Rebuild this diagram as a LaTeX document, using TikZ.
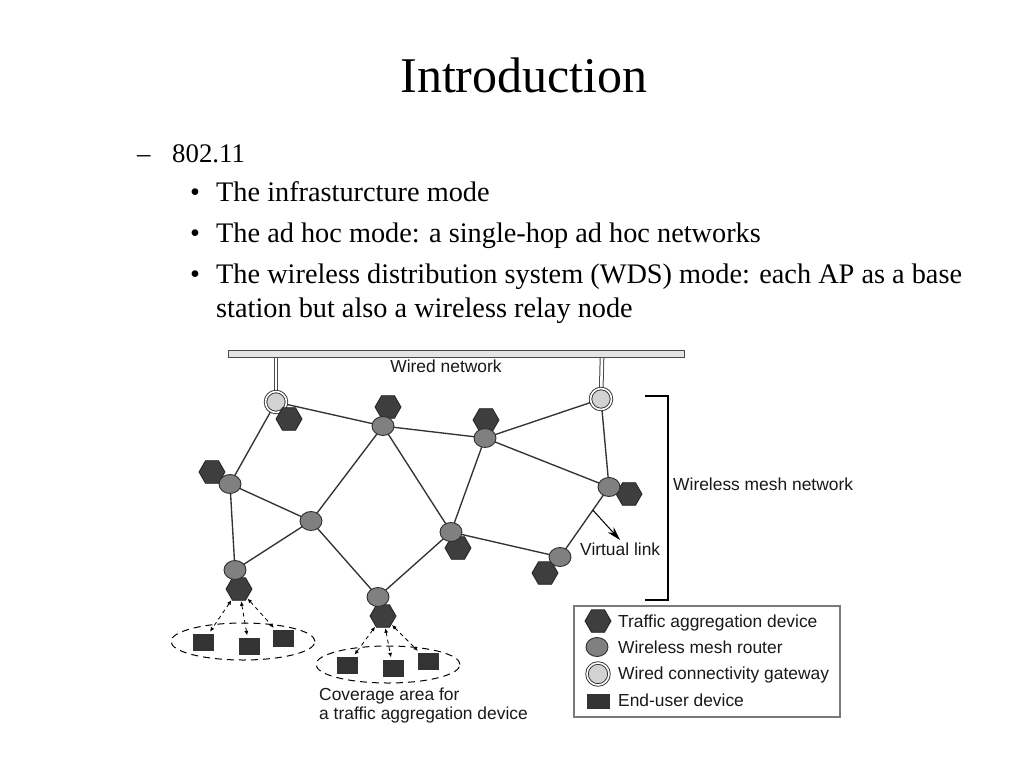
\documentclass[tikz,border=0pt]{standalone}
\usepackage{fontspec}
\setmainfont{Liberation Serif}
\newfontfamily\diagfont{Liberation Sans}
\usetikzlibrary{shapes.geometric,arrows.meta,calc,backgrounds}
\definecolor{linegray}{HTML}{333333}
\definecolor{hexfill}{HTML}{3E3E3E}
\definecolor{hexborder}{HTML}{222222}
\definecolor{routerfill}{HTML}{808080}
\definecolor{routerborder}{HTML}{2E2E2E}
\definecolor{gwfill}{HTML}{D2D2D2}
\definecolor{userfill}{HTML}{333333}
\definecolor{barfill}{HTML}{E4E4E4}
\definecolor{bargray}{HTML}{4A4A4A}
\definecolor{legendgray}{HTML}{7A7A7A}
\begin{document}
\begin{tikzpicture}[x=1pt,y=-1pt,
  link/.style={draw=linegray, line width=1.35pt},
  hexdev/.style={regular polygon, regular polygon sides=6, minimum size=26pt, inner sep=0pt, outer sep=0pt, fill=hexfill, draw=hexborder, line width=0.8pt},
  router/.style={ellipse, minimum width=22pt, minimum height=19pt, inner sep=0pt, outer sep=0pt, fill=routerfill, draw=routerborder, line width=0.9pt},
  gateway/.style={circle, minimum size=21pt, inner sep=0pt, outer sep=0pt, fill=gwfill, draw=routerborder, double=white, double distance=1.6pt, line width=0.9pt},
  enduser/.style={rectangle, minimum width=21pt, minimum height=17pt, inner sep=0pt, fill=userfill},
  coverage/.style={ellipse, draw=black, dash pattern=on 7pt off 5pt, line width=1pt, inner sep=0pt},
  access/.style={draw=black, dash pattern=on 4pt off 3.5pt, line width=0.8pt, {Latex[length=4.5pt,width=4pt]}-{Latex[length=4.5pt,width=4pt]}, shorten <=1pt, shorten >=2pt},
  wiredlink/.style={draw=bargray, double=white, double distance=2.6pt, line width=1pt},
  dlabel/.style={font=\diagfont\fontsize{17.4}{20}\selectfont, inner sep=0pt, text=black!90},
  body/.style={font=\fontsize{28.3}{34}\selectfont, inner sep=0pt, anchor=base west}
]
\useasboundingbox (0,0) rectangle (1024,768);

% ---------- slide text ----------
\node[anchor=base, inner sep=0pt, font=\fontsize{50}{60}\selectfont] (title) at (524,92) {Introduction};
\node[anchor=base west, inner sep=0pt, font=\fontsize{26.8}{32}\selectfont] (dash) at (137,162) {–};
\node[anchor=base west, inner sep=0pt, font=\fontsize{26.8}{32}\selectfont] (lvl) at (172,162) {802.11};
\node[body] (bul1) at (190,201) {•};
\node[body] (txt1) at (216,201) {The infrasturcture mode};
\node[body] (bul2) at (190,242) {•};
\node[body] (txt2) at (216,242) {The ad hoc mode: a single-hop ad hoc networks};
\node[body] (bul3) at (190,283) {•};
\node[body] (txt3) at (216,283) {The wireless distribution system (WDS) mode: each AP as a base};
\node[body] (txt4) at (216,317) {station but also a wireless relay node};

% ---------- wired network ----------
\node[draw=bargray, fill=barfill, line width=0.9pt, minimum width=456pt, minimum height=7pt, inner sep=0pt] (bar) at (456,353.5) {};
\node[dlabel, anchor=base] (wiredlbl) at (446,372) {Wired network};

% ---------- mesh nodes ----------
\node[gateway] (G1) at (276,402) {};
\node[gateway] (G2) at (601,399) {};
\coordinate (bar1) at (276,357);
\coordinate (bar2) at (602,357);

\node[hexdev] (hG1) at (289,419) {};
\node[hexdev] (hR1) at (388,407) {};
\node[hexdev] (hR2) at (486,420) {};
\node[hexdev] (hR3) at (629,494) {};
\node[hexdev] (hR4) at (212,472) {};
\node[hexdev] (hR6) at (458,548) {};
\node[hexdev] (hR7) at (545,573) {};
\node[hexdev] (h8) at (239,589) {};
\node[hexdev] (h9) at (383,616) {};

\node[router] (R1) at (383,426) {};
\node[router] (R2) at (485,438) {};
\node[router] (R3) at (609,487) {};
\node[router] (R4) at (230,484) {};
\node[router] (R5) at (311,521) {};
\node[router] (R6) at (451,532) {};
\node[router] (R7) at (560,557) {};
\node[router] (R8) at (235,570) {};
\node[router] (R9) at (378,597) {};

\begin{pgfonlayer}{background}
  \fill[white] (0,0) rectangle (1024,768);
  \draw[wiredlink] (bar1) -- (G1);
  \draw[wiredlink] (bar2) -- (G2);
  \draw[link] (G1) -- (R1);
  \draw[link] (G1) -- (R4);
  \draw[link] (R1) -- (R2);
  \draw[link] (R2) -- (G2);
  \draw[link] (R1) -- (R5);
  \draw[link] (R1) -- (R6);
  \draw[link] (R2) -- (R6);
  \draw[link] (R2) -- (R3);
  \draw[link] (G2) -- (R3);
  \draw[link] (R3) -- (R7);
  \draw[link] (R6) -- (R7);
  \draw[link] (R4) -- (R5);
  \draw[link] (R4) -- (R8);
  \draw[link] (R5) -- (R8);
  \draw[link] (R5) -- (R9);
  \draw[link] (R6) -- (R9);
\end{pgfonlayer}

% virtual link
\coordinate (vlA) at ($(R3)!0.33!(R7)$);
\coordinate (vlB) at (620,540);
\draw[line width=1pt, -{Stealth[length=14pt,width=8pt]}] (vlA) -- (vlB);
\node[dlabel, anchor=base west] (vllbl) at (580,555) {Virtual link};

% bracket
\coordinate (brA) at (645,396);
\coordinate (brB) at (668,396);
\coordinate (brC) at (668,600);
\coordinate (brD) at (645,600);
\draw[line width=1.1pt] (brA) -- (brB) -- (brC) -- (brD);
\node[dlabel, anchor=base west] (wmnlbl) at (673,490) {Wireless mesh network};

% ---------- coverage areas ----------
\node[coverage, minimum width=144pt, minimum height=37pt] (cov1) at (243,641.5) {};
\node[coverage, minimum width=144pt, minimum height=37pt] (cov2) at (388,664.5) {};
\node[enduser] (u1) at (203,642) {};
\node[enduser] (u2) at (249,646) {};
\node[enduser] (u3) at (283,638) {};
\node[enduser] (u4) at (347,665) {};
\node[enduser] (u5) at (393,668) {};
\node[enduser] (u6) at (428,661) {};
\draw[access] (h8) -- (u1);
\draw[access] (h8) -- (u2);
\draw[access] (h8) -- (u3);
\draw[access] (h9) -- (u4);
\draw[access] (h9) -- (u5);
\draw[access] (h9) -- (u6);
\node[dlabel, anchor=base west] (cov1lbl) at (319,700) {Coverage area for};
\node[dlabel, anchor=base west] (cov2lbl) at (319,719) {a traffic aggregation device};

% ---------- legend ----------
\draw[draw=legendgray, line width=1.3pt] (574,606) rectangle (840,717);
\node[hexdev] (lg1) at (598,621) {};
\node[router] (lg2) at (597,647) {};
\node[gateway, minimum size=22pt] (lg3) at (598,674) {};
\node[enduser, minimum width=23pt, minimum height=15pt] (lg4) at (598,701) {};
\node[dlabel, anchor=base west] (lt1) at (618,627) {Traffic aggregation device};
\node[dlabel, anchor=base west] (lt2) at (618,653) {Wireless mesh router};
\node[dlabel, anchor=base west] (lt3) at (618,679.5) {Wired connectivity gateway};
\node[dlabel, anchor=base west] (lt4) at (618,706) {End-user device};
\end{tikzpicture}
\end{document}
